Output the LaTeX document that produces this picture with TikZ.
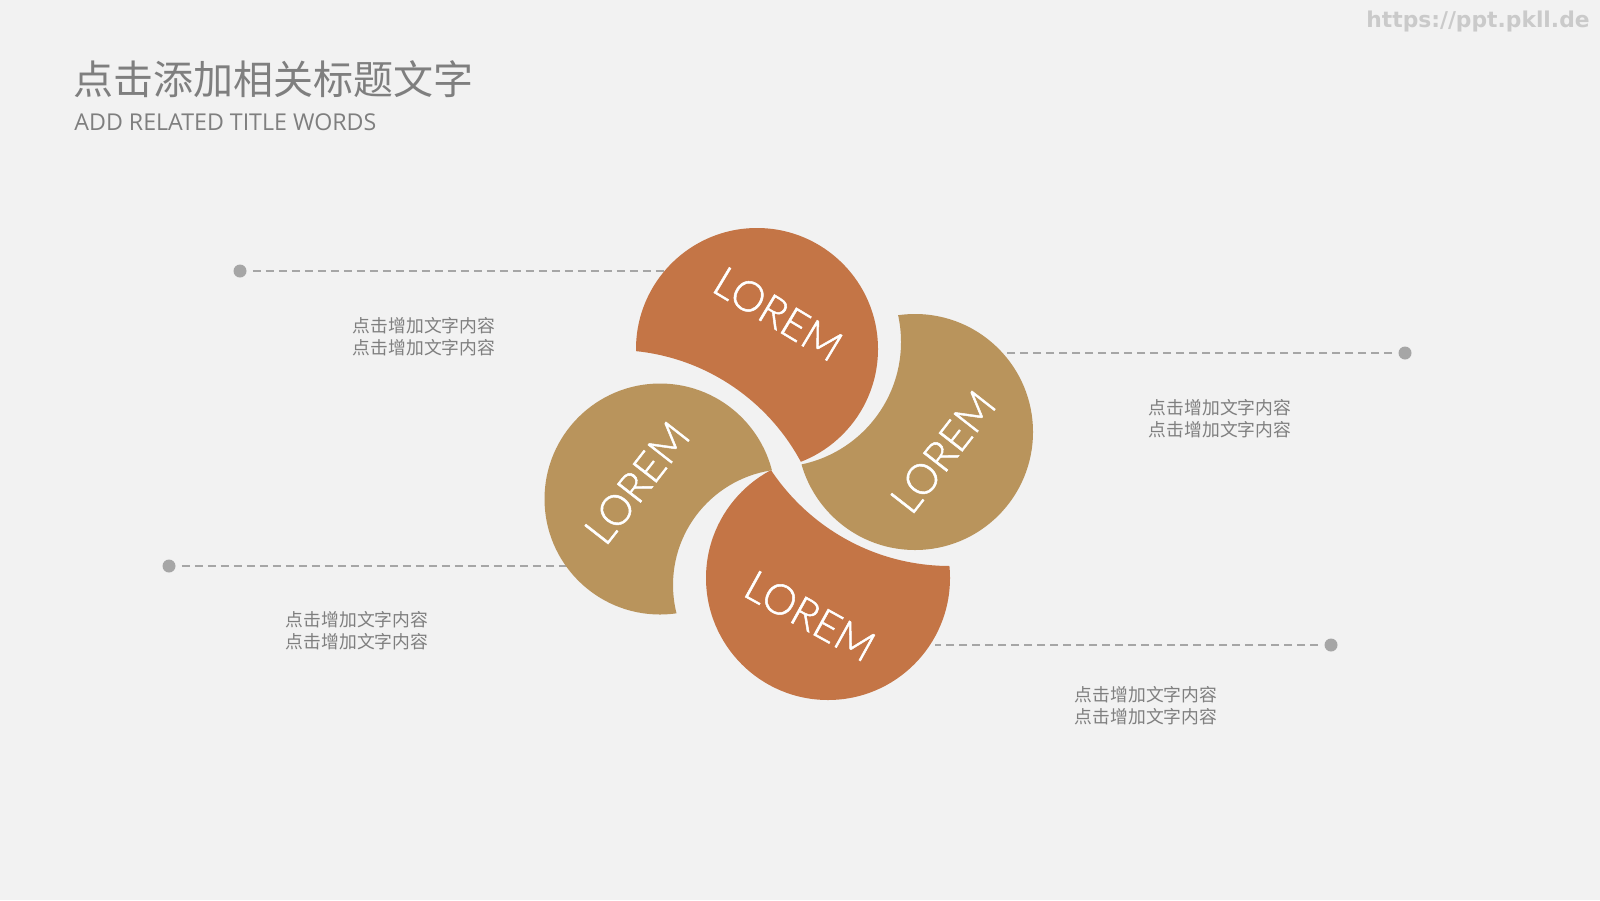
\documentclass[tikz,border=0pt]{standalone}
\usepackage{fontspec}
\setmainfont{Open Sans}
\newfontfamily\cjk{Noto Sans CJK SC}
\newfontfamily\loremfont{Lato Light}[FakeBold=1.2]
\newfontfamily\urlfont{DejaVu Sans}
\definecolor{bgpaper}{HTML}{F2F2F2}
\definecolor{rust}{HTML}{C47546}
\definecolor{sand}{HTML}{B9945C}
\definecolor{inkgray}{HTML}{7F7F7F}
\definecolor{leadgray}{HTML}{A6A6A6}
\definecolor{markgray}{HTML}{CACACA}

\begin{document}
\begin{tikzpicture}[x=0.5pt,y=-0.5pt,
  leader/.style={leadgray,line width=1pt,dash pattern=on 4pt off 2.5pt,shorten <=3pt},
  dotmark/.style={circle,fill=leadgray,inner sep=0pt,minimum size=6.5pt},
  note/.style={font=\cjk\fontsize{8.9}{11}\selectfont,text=inkgray,align=center,inner sep=0pt},
  lorem/.style={font=\loremfont\fontsize{21}{24}\selectfont,text=white,inner sep=0pt}]
% paper
\path[use as bounding box,fill=bgpaper] (0,0) rectangle (1600,900);
% heading and web mark
\node[anchor=west,inner sep=0pt,text=inkgray,font=\cjk\fontsize{20}{24}\selectfont] (title) at (73,79) {点击添加相关标题文字};
\node[anchor=base west,inner sep=0pt,text=inkgray,font=\fontsize{11.6}{13}\selectfont] (subtitle) at (74,130) {ADD RELATED TITLE WORDS};
\node[inner sep=0pt,text=markgray,font=\urlfont\bfseries\fontsize{10.9}{12}\selectfont] (url) at (1478,21) {https://ppt.pkll.de};
% leaders: dot to petal edge
\foreach \i/\mx/\ex/\y in {1/240/665/271,2/1405/1000/353,3/169/570/566,4/1331/935/645}{
  \node[dotmark] (mark\i) at (\mx,\y) {};
  \coordinate (edge\i) at (\ex,\y);
  \draw[leader] (mark\i) -- (edge\i);
}
% notes
\foreach \i/\x/\y in {1/424/337,2/1220/419,3/357/631,4/1146/706}{
  \node[note] (note\i) at (\x,\y) {点击增加文字内容\\点击增加文字内容};
}
% petals: circle minus bite
\foreach \cx/\cy/\rad/\bx/\by/\R/\col in {757/349/121/614/562/212/rust,
    915/432/118/776/342/125/sand, 828/578/122/950/351/215/rust,
    660/499/115.5/789/585/116/sand}{
  \begin{scope}[even odd rule]
    \clip (0,0) rectangle (1600,900) (\bx,\by) circle (\R);
    \fill[\col] (\cx,\cy) circle (\rad);
  \end{scope}
}
% petal labels
\foreach \i/\x/\y/\a in {1/778/314/-31,2/943/452/52,3/810/616/-29,4/637/483/52}{
  \node[lorem,rotate=\a] (lorem\i) at (\x,\y) {LOREM};
}
\end{tikzpicture}
\end{document}
